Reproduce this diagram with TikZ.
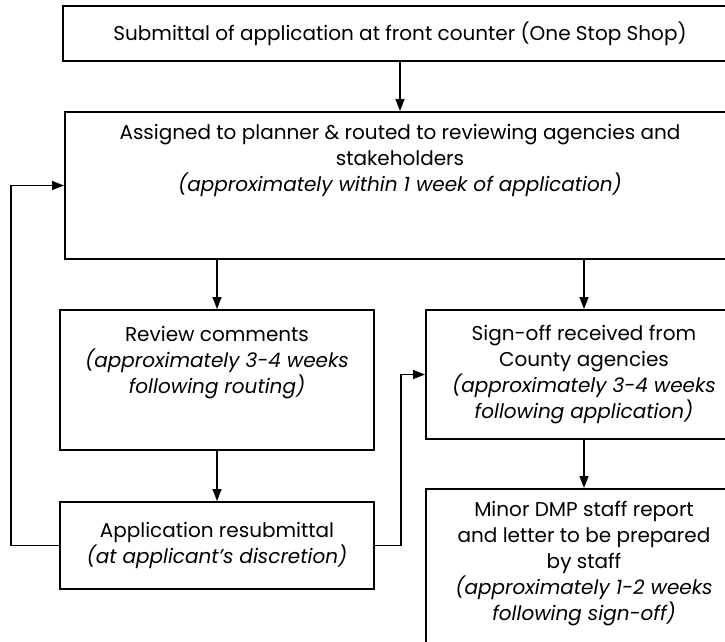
\documentclass[tikz,border=0pt]{standalone}
\usepackage{fontspec}
\setmainfont{Poppins}
\usetikzlibrary{positioning,arrows.meta}

% text block inside a box: [inner position]{width}{height}{text}
\newcommand{\boxtext}[4][t]{\parbox[c][#3][#1]{#2}{\centering #4}}

\begin{document}
\begin{tikzpicture}[x=1pt,y=1pt,
	flowbox/.style={draw, line width=2pt, inner sep=0pt, font=\fontsize{20}{26}\selectfont},
	flowarrow/.style={line width=1.6pt, -{Triangle[length=12pt,width=9pt]}}]
	\clip (0,0) rectangle (725,-641);

	\node[flowbox, minimum width=674pt, minimum height=55pt] (submit) at (400,-33.5)
		{\boxtext[c]{660pt}{45pt}{Submittal of application at front counter (One Stop Shop)}};
	\node[flowbox, minimum width=670pt, minimum height=147pt, below=49pt of submit] (assign)
		{\boxtext{650pt}{123pt}{Assigned to planner \& routed to reviewing agencies and\\ stakeholders\\ {\itshape (approximately within 1 week of application)}}};
	\node[flowbox, minimum width=314pt, minimum height=140pt, below=49pt of assign.south west, anchor=north west, xshift=-5pt] (review)
		{\boxtext{304pt}{108pt}{Review comments\\ {\itshape (approximately 3-4 weeks\\ following routing)}}};
	\node[flowbox, minimum width=316pt, minimum height=129pt, right=50pt of review.north east, anchor=north west] (signoff)
		{\boxtext[c]{306pt}{110pt}{Sign-off received from\\ County agencies\\ {\itshape (approximately 3-4 weeks\\ following application)}}};
	\node[flowbox, minimum width=314pt, minimum height=87pt, below=50pt of review] (resub)
		{\boxtext[c]{304pt}{70pt}{Application resubmittal\\ {\itshape (at applicant’s discretion)}}};
	\node[flowbox, minimum width=316pt, minimum height=175pt, below=48pt of signoff] (minor)
		{\boxtext{306pt}{151pt}{Minor DMP staff report\\ and letter to be prepared\\ by staff\\ {\itshape (approximately 1-2 weeks\\ following sign-off)}}};

	\draw[flowarrow] (submit) -- (assign);
	\draw[flowarrow] (review.north |- assign.south) -- (review.north);
	\draw[flowarrow] (signoff.north |- assign.south) -- (signoff.north);
	\draw[flowarrow] (review) -- (resub);
	\draw[flowarrow] (signoff) -- (minor);
	% loops back from the resubmittal
	\draw[flowarrow] (resub.west) -- ++(-48,0) |- (assign.west);
	\draw[flowarrow] (resub.east) -- ++(26,0) |- (signoff.west);
\end{tikzpicture}
\end{document}
